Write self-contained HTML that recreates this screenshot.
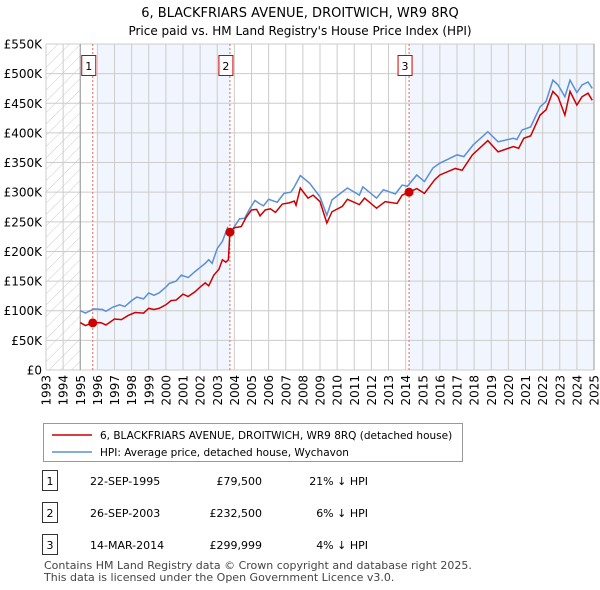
<!DOCTYPE html>
<html><head><meta charset="utf-8"><style>
body{margin:0;background:#fff;font-family:"Liberation Sans","DejaVu Sans",sans-serif;}
#wrap{position:relative;width:600px;height:590px;overflow:hidden}
svg text{font-family:"DejaVu Sans","Liberation Sans",sans-serif}
</style></head><body><div id="wrap">
<svg id="c" width="600" height="590"></svg>
</div>
<script>
const hpiYears=[1995.0,1995.3,1995.8,1996.3,1996.5,1996.9,1997.3,1997.6,1998.0,1998.3,1998.7,1999.0,1999.3,1999.6,2000.0,2000.2,2000.6,2000.9,2001.3,2001.7,2002.0,2002.3,2002.5,2002.7,2003.0,2003.3,2003.6,2003.8,2004.0,2004.3,2004.6,2004.9,2005.2,2005.5,2005.7,2006.0,2006.3,2006.5,2006.9,2007.3,2007.5,2007.85,2008.4,2009.0,2009.4,2009.7,2010.6,2011.3,2011.5,2012.3,2012.7,2013.4,2013.8,2014.1,2014.65,2015.1,2015.6,2016.0,2017.0,2017.4,2017.95,2018.8,2019.4,2020.3,2020.5,2020.8,2021.3,2021.85,2022.2,2022.6,2022.9,2023.3,2023.6,2024.0,2024.3,2024.65,2024.9];
const hpiValues=[100,96,103,102,99,106,110,107,117,123,120,130,126,130,140,146,150,160,156,166,173,180,186,180,205,217,240,233,242,255,256,272,286,280,277,288,285,283,298,300,309,328,315,292,261,287,307,295,309,290,304,297,312,310,329,318,341,349,363,360,380,402,385,391,389,405,410,444,453,489,481,461,489,468,481,486,475];
const ppYears=[1995.0,1995.3,1995.73,1996.2,1996.5,1997.0,1997.4,1997.8,1998.2,1998.7,1999.0,1999.3,1999.6,2000.0,2000.3,2000.6,2001.0,2001.3,2001.7,2002.0,2002.3,2002.5,2002.8,2003.1,2003.3,2003.5,2003.65,2003.74,2004.0,2004.4,2004.7,2005.0,2005.3,2005.5,2005.8,2006.1,2006.4,2006.8,2007.2,2007.5,2007.6,2007.85,2008.3,2008.6,2009.0,2009.4,2009.7,2010.3,2010.6,2011.3,2011.6,2012.3,2012.8,2013.5,2013.8,2014.2,2014.65,2015.1,2015.7,2016.0,2016.9,2017.3,2017.9,2018.8,2019.4,2020.3,2020.6,2020.9,2021.3,2021.85,2022.2,2022.6,2022.9,2023.3,2023.6,2024.0,2024.3,2024.65,2024.9];
const ppValues=[80,75,79.5,80,76,86,85,92,97,96,104,102,104,110,117,118,128,124,132,140,147,142,160,170,186,182,186,232.5,240,242,258,270,271,260,270,272,266,280,282,285,278,307,290,295,284,248,267,276,288,279,290,273,284,281,295,300,306,298,321,329,340,337,363,387,368,377,374,391,395,430,439,470,461,430,470,447,461,467,455];
const saleYears=[1995.73,2003.74,2014.2];
const saleValues=[79.5,232.5,299.999];
const saleLabels=["1","2","3"];
const yTicks=[0,50,100,150,200,250,300,350,400,450,500,550];
const yTickLabels=["£0","£50K","£100K","£150K","£200K","£250K","£300K","£350K","£400K","£450K","£500K","£550K"];
const xTicks=[1993,1994,1995,1996,1997,1998,1999,2000,2001,2002,2003,2004,2005,2006,2007,2008,2009,2010,2011,2012,2013,2014,2015,2016,2017,2018,2019,2020,2021,2022,2023,2024,2025];

const L=46,R=594,T=44,B=370;
const X=y=>L+(y-1993)*(R-L)/32;
const Y=v=>B-v*(B-T)/550;
const svg=document.getElementById('c');
const NS='http://www.w3.org/2000/svg';
function mk(tag,attrs,parent){const e=document.createElementNS(NS,tag);for(const k in attrs)e.setAttribute(k,attrs[k]);(parent||svg).appendChild(e);return e;}

svg.innerHTML='<defs><pattern id="hatch" width="8" height="8" patternUnits="userSpaceOnUse" patternTransform="rotate(45)"><line x1="0" y1="0" x2="0" y2="8" stroke="#ccc" stroke-width="1"/></pattern></defs>';
let t=mk('text',{x:300,y:17,'text-anchor':'middle','font-size':13,fill:'#000'});t.textContent='6, BLACKFRIARS AVENUE, DROITWICH, WR9 8RQ';

t=mk('text',{x:300,y:35,'text-anchor':'middle','font-size':12,fill:'#000'});t.textContent="Price paid vs. HM Land Registry's House Price Index (HPI)";


let r=mk('rect',{x:L,y:T,width:X(1995)-L,height:B-T,fill:'url(#hatch)'});

r=mk('rect',{x:X(1996),y:T,width:X(saleYears[1])-X(1996),height:B-T,fill:'#eef3fc',opacity:0.8});

r=mk('rect',{x:X(saleYears[2]),y:T,width:R-X(saleYears[2]),height:B-T,fill:'#eef3fc',opacity:0.8});


yTicks.forEach((v,i)=>{
  const l=mk('line',{x1:L,x2:R,y1:Y(v),y2:Y(v),stroke:'#ccc','stroke-width':1});
  
  const tx=mk('text',{x:L-4,y:Y(v)+4.5,'text-anchor':'end','font-size':12,fill:'#000'});tx.textContent=yTickLabels[i];
  
});
xTicks.forEach(yr=>{
  const l=mk('line',{x1:X(yr),x2:X(yr),y1:T,y2:B,stroke:'#ccc','stroke-width':1});
  
  const tx=mk('text',{x:0,y:0,'text-anchor':'end','font-size':12,fill:'#000',transform:`translate(${X(yr)+4.5},${B+5}) rotate(-90)`});tx.textContent=yr;
  
});
let ax=mk('line',{x1:X(1995),x2:X(1995),y1:T,y2:B,stroke:'#999','stroke-width':1});

ax=mk('line',{x1:R,x2:R,y1:T,y2:B,stroke:'#999','stroke-width':1});


saleYears.forEach((yr,i)=>{
  const l=mk('line',{x1:X(yr),x2:X(yr),y1:T,y2:B,stroke:'#f06060','stroke-width':1,'stroke-dasharray':'2,2'});
  
  const bx=mk('rect',{x:X(yr)-11,y:55.5,width:14,height:20,fill:'#fff',stroke:'#c00','stroke-width':1});
  
  const tx=mk('text',{x:X(yr)-4,y:70,'text-anchor':'middle','font-size':11,fill:'#000'});tx.textContent=saleLabels[i];
  
});

let p=mk('polyline',{points:hpiYears.map((y,i)=>X(y)+','+Y(hpiValues[i])).join(' '),fill:'none',stroke:'#5b8fd6','stroke-width':1.5});

p=mk('polyline',{points:ppYears.map((y,i)=>X(y)+','+Y(ppValues[i])).join(' '),fill:'none',stroke:'#cc0000','stroke-width':1.5});

saleYears.forEach((yr,i)=>{
  const c=mk('circle',{cx:X(yr),cy:Y(saleValues[i]),r:4.5,fill:'#cc0000'});
  
});

const lg=mk('g',{});
mk('rect',{x:43.5,y:423.5,width:419,height:38,fill:'#fff',stroke:'#999'},lg);
mk('line',{x1:52,x2:92,y1:435,y2:435,stroke:'#cc0000','stroke-width':1.5},lg);
let e=mk('text',{x:100,y:439,'font-size':10.5},lg);e.textContent='6, BLACKFRIARS AVENUE, DROITWICH, WR9 8RQ (detached house)';

mk('line',{x1:52,x2:92,y1:452,y2:452,stroke:'#5b8fd6','stroke-width':1.5},lg);
e=mk('text',{x:100,y:456,'font-size':10.5},lg);e.textContent='HPI: Average price, detached house, Wychavon';


const rows=[["1","22-SEP-1995","£79,500","21% ↓ HPI"],["2","26-SEP-2003","£232,500","6% ↓ HPI"],["3","14-MAR-2014","£299,999","4% ↓ HPI"]];
rows.forEach((rw,i)=>{
  const y=481+i*32;
  const g=mk('g',{});
  mk('rect',{x:42.5,y:y-10.5,width:15,height:20,fill:'#fff',stroke:'#333'},g);
  let a=mk('text',{x:50,y:y+4,'text-anchor':'middle','font-size':11},g);a.textContent=rw[0];
  a=mk('text',{x:90,y:y+4,'font-size':11},g);a.textContent=rw[1];
  a=mk('text',{x:262,y:y+4,'text-anchor':'end','font-size':11},g);a.textContent=rw[2];
  a=mk('text',{x:368,y:y+4,'text-anchor':'end','font-size':11},g);a.textContent=rw[3];
});
e=mk('text',{x:44,y:569,'font-size':11,fill:'#444'});e.textContent='Contains HM Land Registry data © Crown copyright and database right 2025.';

e=mk('text',{x:44,y:581,'font-size':11,fill:'#444'});e.textContent='This data is licensed under the Open Government Licence v3.0.';

</script></body></html>
